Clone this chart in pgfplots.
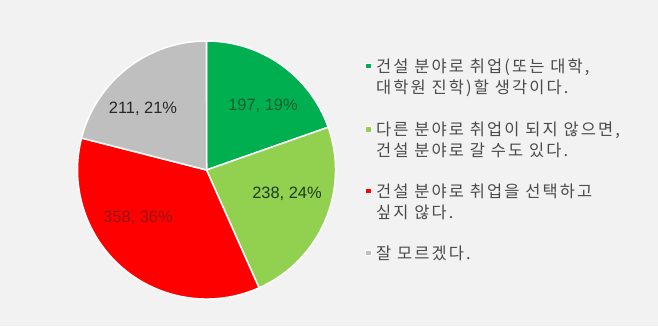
\documentclass[border=0pt]{standalone}
\usepackage{pgfplots}
\pgfplotsset{compat=1.18}
\usepackage{pgfplotstable}
\usepackage{fontspec}
\setmainfont{Liberation Sans}
\newfontfamily\kr[LetterSpace=13]{Noto Sans CJK KR}

\definecolor{cA}{HTML}{00B050}
\definecolor{cB}{HTML}{92D050}
\definecolor{cC}{HTML}{FF0000}
\definecolor{cD}{HTML}{BFBFBF}
\definecolor{bg}{HTML}{F2F2F2}
\definecolor{txt}{HTML}{4A4A4A}

% answers: count per answer
\pgfplotstableread{
id value
1 197
2 238
3 358
4 211
}\piedata

\newcommand\getv[2]{\pgfplotstablegetelem{#1}{value}\of\piedata\let#2\pgfplotsretval}
\getv{0}\vA
\getv{1}\vB
\getv{2}\vC
\getv{3}\vD
\pgfmathsetmacro\tot{\vA+\vB+\vC+\vD}
\pgfmathsetmacro\aA{90}
\pgfmathsetmacro\aB{\aA-360*(\vA/\tot)}
\pgfmathsetmacro\aC{\aB-360*(\vB/\tot)}
\pgfmathsetmacro\aD{\aC-360*(\vC/\tot)}
\pgfmathsetmacro\aE{\aD-360*(\vD/\tot)}

\newcommand\slice[3]{%
  \fill[#3,draw=white,line width=1.5pt,line join=round]
    (axis cs:206.5,156) -- ++(#1:129bp) arc[start angle=#1,end angle=#2,radius=129bp] -- cycle;}

\begin{document}
\begin{tikzpicture}
\begin{axis}[
  x=1bp, y=1bp, scale only axis,
  xmin=0, xmax=658, ymin=0, ymax=326,
  hide axis, clip=false,
]
\fill[bg] (axis cs:0,0) rectangle (axis cs:658,326);

\slice{\aA}{\aB}{cA}
\slice{\aB}{\aC}{cB}
\slice{\aC}{\aD}{cC}
\slice{\aD}{\aE}{cD}

\tikzset{lab/.style={font=\fontsize{16.5}{18}\selectfont, inner sep=0}}
\node[lab, text={rgb,255:red,15;green,95;blue,45}] at (axis cs:263,220) {197, 19\%};
\node[lab, text={rgb,255:red,30;green,60;blue,20}] at (axis cs:287,132) {238, 24\%};
\node[lab, text={rgb,255:red,150;green,20;blue,20}] at (axis cs:138,108) {358, 36\%};
\node[lab, text={rgb,255:red,40;green,40;blue,40}] at (axis cs:143,217) {211, 21\%};

% legend
\tikzset{mk/.style={rectangle, draw=white, line width=1.3bp, minimum size=5.5bp, inner sep=0},
         lt/.style={anchor=base west, inner sep=0, text=txt, font=\kr\fontsize{16.5}{18}\selectfont}}
\node[mk, fill=cA] at (axis cs:368.5,260) {};
\node[mk, fill=cB] at (axis cs:368.5,196.5) {};
\node[mk, fill=cC] at (axis cs:368.5,135) {};
\node[mk, fill=cD] at (axis cs:368.5,73) {};

\node[lt] at (axis cs:376,254) {건설 분야로 취업(또는 대학,};
\node[lt] at (axis cs:376,232.5) {대학원 진학)할 생각이다.};
\node[lt] at (axis cs:376,191) {다른 분야로 취업이 되지 않으면,};
\node[lt] at (axis cs:376,169.5) {건설 분야로 갈 수도 있다.};
\node[lt] at (axis cs:376,129) {건설 분야로 취업을 선택하고};
\node[lt] at (axis cs:376,107.5) {싶지 않다.};
\node[lt] at (axis cs:376,67) {잘 모르겠다.};
\end{axis}
\end{tikzpicture}
\end{document}
